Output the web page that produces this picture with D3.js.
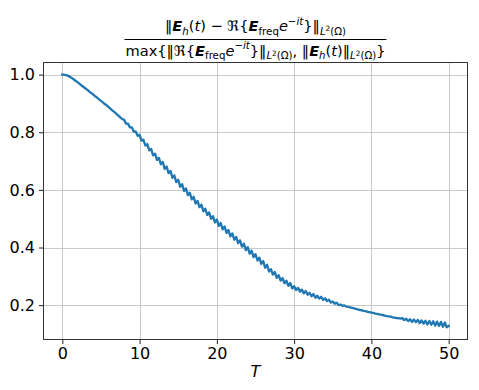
<!DOCTYPE html>
<html>
<head>
<meta charset="utf-8">
<script src="https://cdn.jsdelivr.net/npm/d3@7"></script>
<style>
  body { margin: 0; background: #fff; }
  text { font-family: "DejaVu Sans", sans-serif; }
</style>
</head>
<body>
<svg id="chart"></svg>
<script>
// relative error, one value every tStep in T (0 .. 50)
const tStep = 0.25;
const ratio = [
  1.000, 0.999, 0.998, 0.996,  0.992, 0.988, 0.983, 0.978,  0.973, 0.968, 0.962, 0.957,
  0.952, 0.947, 0.941, 0.936,  0.931, 0.925, 0.920, 0.914,  0.909, 0.904, 0.898, 0.893,
  0.887, 0.881, 0.875, 0.870,  0.864, 0.858, 0.852, 0.846,  0.843, 0.830, 0.830, 0.817,
  0.817, 0.802, 0.803, 0.788,  0.791, 0.771, 0.774, 0.754,  0.759, 0.737, 0.742, 0.720,
  0.726, 0.704, 0.711, 0.689,  0.697, 0.673, 0.681, 0.658,  0.666, 0.642, 0.650, 0.627,
  0.635, 0.611, 0.620, 0.596,  0.605, 0.582, 0.590, 0.567,  0.576, 0.553, 0.562, 0.540,
  0.549, 0.526, 0.535, 0.513,  0.522, 0.500, 0.509, 0.487,  0.497, 0.475, 0.485, 0.463,
  0.473, 0.451, 0.461, 0.439,  0.449, 0.427, 0.437, 0.415,  0.425, 0.403, 0.413, 0.391,
  0.401, 0.379, 0.389, 0.367,  0.377, 0.355, 0.365, 0.343,  0.353, 0.330, 0.340, 0.317,
  0.325, 0.306, 0.315, 0.295,  0.304, 0.285, 0.294, 0.276,  0.285, 0.267, 0.277, 0.258,
  0.266, 0.253, 0.260, 0.247,  0.254, 0.241, 0.249, 0.236,  0.243, 0.231, 0.239, 0.226,
  0.233, 0.223, 0.229, 0.218,  0.224, 0.214, 0.219, 0.209,  0.213, 0.205, 0.209, 0.200,
  0.202, 0.198, 0.199, 0.195,  0.194, 0.192, 0.191, 0.189,  0.187, 0.185, 0.184, 0.182,
  0.180, 0.179, 0.177, 0.176,  0.174, 0.173, 0.171, 0.170,  0.168, 0.167, 0.165, 0.164,
  0.162, 0.161, 0.160, 0.158,  0.157, 0.155, 0.155, 0.153,  0.155, 0.148, 0.153, 0.145,
  0.151, 0.142, 0.150, 0.141,  0.149, 0.138, 0.147, 0.136,  0.146, 0.133, 0.145, 0.132,
  0.144, 0.129, 0.143, 0.128,  0.142, 0.125, 0.140, 0.123,
  0.128
];
const xTicks = [0, 10, 20, 30, 40, 50];
const yTicks = [0.2, 0.4, 0.6, 0.8, 1.0];
const xLabel = "T";

const width = 479, height = 390;
const margin = {top: 62, right: 11, bottom: 50, left: 43};

const svg = d3.select("#chart")
  .attr("width", width)
  .attr("height", height);

svg.append("rect").attr("width", width).attr("height", height).attr("fill", "#fff");

const points = ratio.map((v, i) => ({t: i * tStep, v: v}));

// matplotlib style 5% padding on both axes
const tExt = d3.extent(points, d => d.t);
const vExt = d3.extent(points, d => d.v);
const tPad = (tExt[1] - tExt[0]) * 0.05;
const vPad = (vExt[1] - vExt[0]) * 0.05;

const x = d3.scaleLinear()
  .domain([tExt[0] - tPad, tExt[1] + tPad])
  .range([margin.left, width - margin.right]);

const y = d3.scaleLinear()
  .domain([vExt[0] - vPad, vExt[1] + vPad])
  .range([height - margin.bottom, margin.top]);

//grid lines

const grid = svg.append("g").attr("stroke", "#c9c9c9").attr("stroke-width", 1);
grid.selectAll(".gx").data(xTicks).enter().append("line")
  .attr("x1", d => Math.round(x(d)) + 0.5).attr("x2", d => Math.round(x(d)) + 0.5)
  .attr("y1", margin.top).attr("y2", height - margin.bottom);
grid.selectAll(".gy").data(yTicks).enter().append("line")
  .attr("y1", d => Math.round(y(d)) + 0.5).attr("y2", d => Math.round(y(d)) + 0.5)
  .attr("x1", margin.left).attr("x2", width - margin.right);

//the curve

const line = d3.line()
  .x(d => x(d.t))
  .y(d => y(d.v));

svg.append("path")
  .datum(points)
  .attr("fill", "none")
  .attr("stroke", "#1f77b4")
  .attr("stroke-width", 2.3)
  .attr("stroke-linejoin", "round")
  .attr("stroke-linecap", "square")
  .attr("d", line);

//axes

const x_axis = d3.axisBottom(x).tickValues(xTicks).tickSize(4).tickPadding(4)
  .tickFormat(d3.format("d"));
const y_axis = d3.axisLeft(y).tickValues(yTicks).tickSize(4).tickPadding(4)
  .tickFormat(d3.format(".1f"));

const gx = svg.append("g")
  .attr("transform", "translate(0," + (height - margin.bottom) + ")")
  .call(x_axis);
const gy = svg.append("g")
  .attr("transform", "translate(" + margin.left + ",0)")
  .call(y_axis);

[gx, gy].forEach(g => {
  g.select(".domain").remove();
  g.selectAll(".tick line").attr("stroke", "#222").attr("stroke-width", 1);
  g.selectAll(".tick text").attr("fill", "#000").style("font-size", "16px");
});

// frame
svg.append("rect")
  .attr("x", margin.left + 0.5).attr("y", margin.top + 0.5)
  .attr("width", width - margin.left - margin.right - 1)
  .attr("height", height - margin.top - margin.bottom - 1)
  .attr("fill", "none").attr("stroke", "#333").attr("stroke-width", 1);

svg.append("text")
  .attr("x", (margin.left + width - margin.right) / 2)
  .attr("y", 377)
  .attr("text-anchor", "middle")
  .style("font-size", "16px")
  .style("font-style", "italic")
  .text(xLabel);

//title: the fraction

const base = 14.6;
const styles = {
  n:   {size: 1,    shift: 0,     italic: false, bold: false},
  i:   {size: 1,    shift: 0,     italic: true,  bold: false},
  bi:  {size: 1,    shift: 0,     italic: true,  bold: true},
  sub: {size: 0.7,  shift: 0.25,  italic: false, bold: false},
  subi:{size: 0.7,  shift: 0.25,  italic: true,  bold: false},
  ss:  {size: 0.5,  shift: 0.0,   italic: false, bold: false},
  sup: {size: 0.7,  shift: -0.42, italic: false, bold: false},
  supi:{size: 0.7,  shift: -0.42, italic: true,  bold: false}
};

const normPart = [["‖", "n"], ["L", "subi"], ["2", "ss"], ["(Ω)", "sub"]];
const numerator = [
  ["‖", "n"], ["E", "bi"], ["h", "subi"], ["(", "n"], ["t", "i"], [") − ℜ{", "n"],
  ["E", "bi"], ["freq", "sub"], ["e", "i"], ["−", "sup"], ["it", "supi"], ["}", "n"]
].concat(normPart);
const denominator = [
  ["max{‖ℜ{", "n"], ["E", "bi"], ["freq", "sub"], ["e", "i"], ["−", "sup"], ["it", "supi"], ["}", "n"]
].concat(normPart).concat([
  [", ‖", "n"], ["E", "bi"], ["h", "subi"], ["(", "n"], ["t", "i"], [")", "n"]
]).concat(normPart).concat([["}", "n"]]);

function mathText(parts, cx, baseline) {
  const t = svg.append("text")
    .attr("x", cx).attr("y", baseline)
    .attr("text-anchor", "middle")
    .style("font-size", base + "px");
  let prev = 0;
  parts.forEach(p => {
    const s = styles[p[1]];
    const shift = s.shift * base;
    t.append("tspan")
      .attr("dy", shift - prev)
      .style("font-size", (s.size * base) + "px")
      .style("font-style", s.italic ? "italic" : "normal")
      .style("font-weight", s.bold ? "bold" : "normal")
      .text(p[0]);
    prev = shift;
  });
  return t;
}

const cx = (margin.left + width - margin.right) / 2;
mathText(numerator, cx, 31);
const den = mathText(denominator, cx, 55.5);
const bb = den.node().getBBox();

svg.append("line")
  .attr("x1", bb.x - 1).attr("x2", bb.x + bb.width + 1)
  .attr("y1", 39.5).attr("y2", 39.5)
  .attr("stroke", "#000").attr("stroke-width", 1);
</script>
</body>
</html>
